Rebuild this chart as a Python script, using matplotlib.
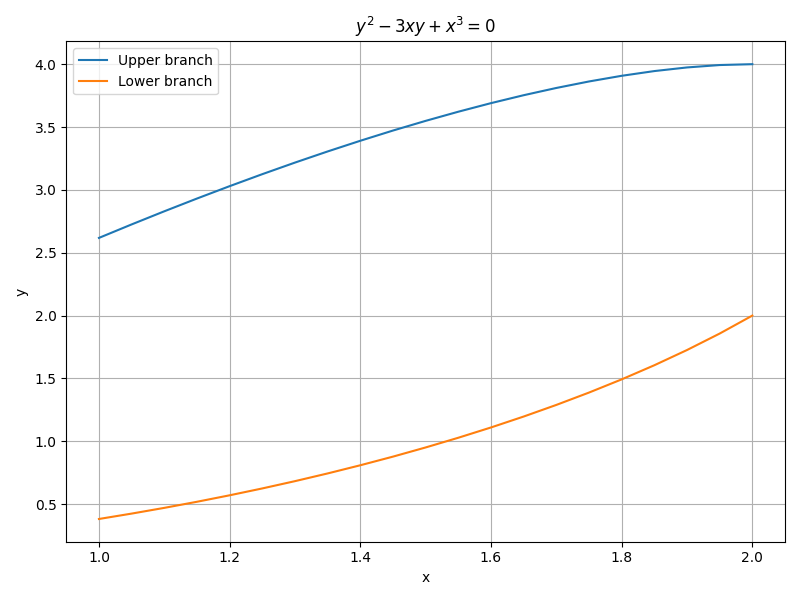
import matplotlib
matplotlib.use("Agg")
import matplotlib.pyplot as plt

x = [1.00, 1.05, 1.10, 1.15, 1.20, 1.25, 1.30, 1.35, 1.40, 1.45, 1.50,
     1.55, 1.60, 1.65, 1.70, 1.75, 1.80, 1.85, 1.90, 1.95, 2.00]
y_upper = [2.6180, 2.7252, 2.8296, 2.9311, 3.0296, 3.1250, 3.2171, 3.3057,
           3.3907, 3.4720, 3.5490, 3.6218, 3.6900, 3.7531, 3.8107, 3.8624,
           3.9075, 3.9451, 3.9740, 3.9931, 4.0000]
y_lower = [0.3820, 0.4248, 0.4704, 0.5189, 0.5704, 0.6250, 0.6829, 0.7443,
           0.8093, 0.8780, 0.9510, 1.0282, 1.1100, 1.1969, 1.2893, 1.3876,
           1.4925, 1.6049, 1.7260, 1.8570, 2.0000]

fig, ax = plt.subplots(figsize=(8, 6), dpi=100)
ax.plot(x, y_upper, label='Upper branch')
ax.plot(x, y_lower, label='Lower branch')
ax.set_title(r'$y^2 - 3xy + x^3 = 0$')
ax.set_xlabel('x')
ax.set_ylabel('y')
ax.grid(True)
ax.legend(loc='upper left')
fig.tight_layout()
fig.savefig('out.png')
